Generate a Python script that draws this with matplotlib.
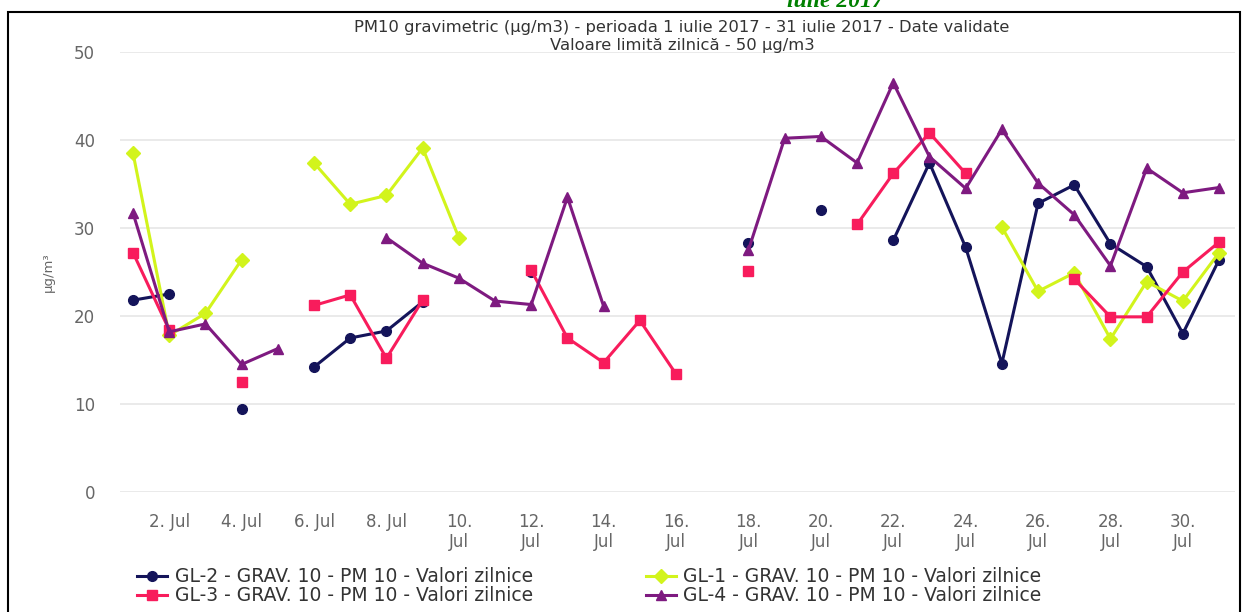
import numpy as np
import matplotlib
matplotlib.use("Agg")
import matplotlib.pyplot as plt
from matplotlib.patches import Rectangle

nan = np.nan
days = list(range(1, 32))

gl2 = [21.8, 22.5, nan, 9.4, nan, 14.2, 17.5, 18.3, 21.6, nan,
       nan, 25.0, nan, nan, nan, nan, nan, 28.3, nan, 32.0,
       nan, 28.6, 37.4, 27.8, 14.6, 32.8, 34.9, 28.2, 25.6, 18.0, 26.4]
gl1 = [38.5, 17.8, 20.3, 26.4, nan, 37.4, 32.7, 33.7, 39.1, 28.9,
       nan, nan, nan, nan, nan, nan, nan, nan, nan, nan,
       nan, nan, nan, nan, 30.1, 22.8, 24.9, 17.4, 23.9, 21.7, 27.2]
gl3 = [27.2, 18.4, nan, 12.5, nan, 21.2, 22.4, 15.2, 21.8, nan,
       nan, 25.2, 17.5, 14.7, 19.5, 13.4, nan, 25.1, nan, nan,
       30.4, 36.2, 40.8, 36.2, nan, nan, 24.2, 19.9, 19.9, 25.0, 28.4]
gl4 = [31.7, 18.2, 19.1, 14.5, 16.3, nan, nan, 28.9, 26.0, 24.3,
       21.7, 21.3, 33.5, 21.1, nan, nan, nan, 27.5, 40.2, 40.4,
       37.4, 46.5, 38.1, 34.5, 41.2, 35.1, 31.5, 25.7, 36.8, 34.0, 34.6]

labels = ["GL-2 - GRAV. 10 - PM 10 - Valori zilnice",
          "GL-1 - GRAV. 10 - PM 10 - Valori zilnice",
          "GL-3 - GRAV. 10 - PM 10 - Valori zilnice",
          "GL-4 - GRAV. 10 - PM 10 - Valori zilnice"]
colors = ["#14145a", "#d2f41c", "#f81c5c", "#7e1a80"]
markers = ["o", "D", "s", "^"]

tick_days = list(range(2, 31, 2))
tick_labels = ["2. Jul", "4. Jul", "6. Jul", "8. Jul"] + [f"{d}.\nJul" for d in range(10, 31, 2)]

title = "PM10 gravimetric (µg/m3) - perioada 1 iulie 2017 - 31 iulie 2017 - Date validate\nValoare limită zilnică - 50 µg/m3"

plt.rcParams['font.family'] = ['DejaVu Sans']

W, H = 1248, 612
fig = plt.figure(figsize=(W / 100, H / 100), dpi=100)
ax = fig.add_axes([120 / W, (H - 492) / H, (1235 - 120) / W, (492 - 52) / H])

ax.set_xlim(0.64, 31.44)
ax.set_ylim(0, 50)
for ser, c, m, lab in zip([gl2, gl1, gl3, gl4], colors, markers, labels):
    ax.plot(days, ser, color=c, marker=m, markersize=7, linewidth=2.2, label=lab, clip_on=False)

ax.set_yticks([0, 10, 20, 30, 40, 50])
ax.set_xticks(tick_days)
ax.set_xticklabels(tick_labels)
ax.grid(axis='y', color='#e6e6e6', linewidth=1.2)
ax.set_axisbelow(True)
for s in ax.spines.values():
    s.set_visible(False)
ax.tick_params(axis='both', length=0, colors='#666666', labelsize=12)
ax.tick_params(axis='x', pad=15)
ax.tick_params(axis='y', pad=18)
for t in ax.get_xticklabels():
    t.set_linespacing(1.15)
ax.set_ylabel("µg/m³", color='#666666', fontsize=9.5, labelpad=14)

fig.text(682 / W, 1 - 20 / H, title, ha='center', va='top', fontsize=11.8,
         color='#333333', linespacing=1.25)

fig.text(835 / W, 1 - 7 / H, "iulie 2017", ha='center', va='baseline', fontsize=17,
         color='#008000', fontweight='bold', fontstyle='italic', family='Liberation Serif')

handles, labs = ax.get_legend_handles_labels()
order = [0, 2, 1, 3]
leg = fig.legend([handles[i] for i in order], [labs[i] for i in order], ncol=2,
                 loc='upper left', bbox_to_anchor=(128 / W, 1 - 558 / H), frameon=False,
                 fontsize=13.5, handlelength=1.6, handletextpad=0.4, columnspacing=6.0,
                 labelspacing=0.0, borderpad=0, labelcolor='#333333')

fig.patches.append(Rectangle((8 / W, -0.01), (1240 - 8) / W, 1 - 12 / H + 0.01,
                             transform=fig.transFigure, fill=False, edgecolor='black',
                             linewidth=1.5))

fig.savefig("out.png", dpi=100)
